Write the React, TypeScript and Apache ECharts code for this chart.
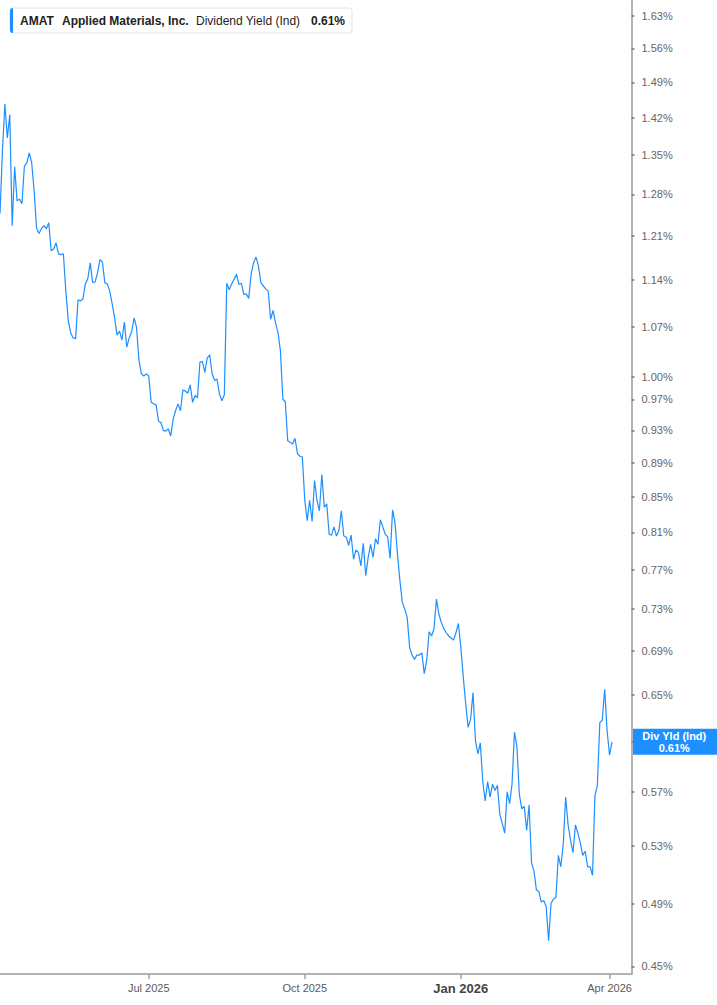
import { useEffect, useRef } from 'react'
import * as echarts from 'echarts'

// AMAT dividend yield (Ind), % — one value per trading day
const q2_2025 = [
  1.247, 1.358, 1.447, 1.382, 1.426, 1.227, 1.329, 1.269, 1.272, 1.264,
  1.330, 1.336, 1.354, 1.336, 1.286, 1.223, 1.214, 1.222, 1.227, 1.222,
  1.232, 1.186, 1.189, 1.199, 1.181, 1.180, 1.181, 1.123, 1.079, 1.061,
  1.054, 1.053, 1.110, 1.108, 1.111, 1.134, 1.142, 1.167, 1.136, 1.137,
  1.151, 1.172, 1.168, 1.136, 1.134, 1.123, 1.104, 1.083, 1.058, 1.064,
  1.051, 1.077, 1.041, 1.054, 1.063, 1.083, 1.069, 1.022, 1.004, 1.001,
  1.004,
]
const q3_2025 = [
  1.001, 0.966, 0.964, 0.963, 0.942, 0.940, 0.930, 0.929, 0.932, 0.923,
  0.944, 0.955, 0.964, 0.955, 0.982, 0.981, 0.978, 0.989, 0.966, 0.975,
  0.972, 1.020, 1.021, 1.006, 1.026, 1.030, 1.004, 0.995, 0.997, 0.977,
  0.968, 0.976, 1.135, 1.125, 1.134, 1.141, 1.149, 1.133, 1.135, 1.118,
  1.119, 1.112, 1.149, 1.167, 1.176, 1.162, 1.136, 1.131, 1.126, 1.123,
  1.081, 1.094, 1.076, 1.062, 1.036, 0.970, 0.967, 0.917, 0.915, 0.913,
  0.920, 0.901, 0.898, 0.897,
]
const q4_2025 = [
  0.846, 0.823, 0.846, 0.822, 0.869, 0.846, 0.834, 0.876, 0.838, 0.842,
  0.808, 0.807, 0.816, 0.806, 0.812, 0.834, 0.806, 0.805, 0.796, 0.807,
  0.781, 0.791, 0.788, 0.774, 0.798, 0.764, 0.783, 0.797, 0.783, 0.803,
  0.797, 0.824, 0.816, 0.808, 0.805, 0.782, 0.835, 0.821, 0.787, 0.759,
  0.737, 0.730, 0.722, 0.693, 0.686, 0.682, 0.686, 0.686, 0.688, 0.669,
  0.681, 0.708, 0.704, 0.711, 0.740, 0.725, 0.717, 0.711, 0.707, 0.704,
  0.702, 0.700, 0.707, 0.716,
]
const q1_2026 = [
  0.693, 0.666, 0.642, 0.622, 0.629, 0.652, 0.611, 0.600, 0.609, 0.578,
  0.563, 0.578, 0.566, 0.576, 0.571, 0.575, 0.553, 0.546, 0.539, 0.570,
  0.561, 0.576, 0.618, 0.606, 0.568, 0.557, 0.559, 0.541, 0.560, 0.518,
  0.512, 0.499, 0.498, 0.491, 0.492, 0.488, 0.466, 0.490, 0.493, 0.494,
  0.523, 0.515, 0.531, 0.566, 0.545, 0.534, 0.525, 0.545, 0.539, 0.532,
  0.523, 0.526, 0.515, 0.515, 0.509, 0.567, 0.575, 0.626, 0.628, 0.655,
  0.619, 0.599, 0.610,
]
const yieldPct = [...q2_2025, ...q3_2025, ...q4_2025, ...q1_2026]

// 0.61% sits under the value badge, so it only gets a tick mark
const yTickMarks = [
  1.63, 1.56, 1.49, 1.42, 1.35, 1.28, 1.21, 1.14, 1.07, 1.0, 0.97, 0.93,
  0.89, 0.85, 0.81, 0.77, 0.73, 0.69, 0.65, 0.61, 0.57, 0.53, 0.49, 0.45,
]
const yTickLabels = yTickMarks.filter(v => v !== 0.61)
const yMin = 0.4454
const yMax = 1.6657

const firstDay = '2025-04-02'
const lastAxisDay = '2026-04-15'
const holidays = [
  '2025-04-18', '2025-05-26', '2025-06-19', '2025-07-04', '2025-09-01',
  '2025-11-27', '2025-12-25', '2026-01-01', '2026-01-19', '2026-02-16',
  '2026-04-03',
]
const monthNames = ['Jan', 'Feb', 'Mar', 'Apr', 'May', 'Jun', 'Jul', 'Aug', 'Sep', 'Oct', 'Nov', 'Dec']

const ticker = 'AMAT'
const company = 'Applied Materials, Inc.'
const metricName = 'Dividend Yield (Ind)'
const badgeName = 'Div Yld (Ind)'

const BLUE = '#1e8fff'
const FONT = '"Liberation Sans", Arial, sans-serif'

function tradingDays(from: string, to: string) {
  const out: string[] = []
  const d = new Date(from + 'T00:00:00Z')
  const end = new Date(to + 'T00:00:00Z')
  while (d <= end) {
    const wd = d.getUTCDay()
    const s = d.toISOString().slice(0, 10)
    if (wd !== 0 && wd !== 6 && !holidays.includes(s)) out.push(s)
    d.setUTCDate(d.getUTCDate() + 1)
  }
  return out
}

export default function App() {
  const chartRef = useRef<HTMLDivElement>(null)

  useEffect(() => {
    if (!chartRef.current) return
    const chart = echarts.init(chartRef.current, null, { renderer: 'svg' })

    const days = tradingDays(firstDay, lastAxisDay)
    const quarterStart = (i: number) => {
      if (i <= 0 || i >= days.length) return false
      const m = days[i].slice(5, 7)
      return m !== days[i - 1].slice(5, 7) && ['01', '04', '07', '10'].includes(m)
    }
    const last = yieldPct[yieldPct.length - 1]
    const lastText = last.toFixed(2) + '%'

    chart.setOption({
      animation: false,
      textStyle: { fontFamily: FONT },
      grid: { left: 0, right: 85.5, top: 0, bottom: 31, outerBoundsMode: 'none' },
      xAxis: {
        type: 'category',
        data: days,
        boundaryGap: false,
        axisLine: { onZero: false, lineStyle: { color: '#b3b3b3', width: 2 } },
        axisTick: {
          interval: (i: number) => quarterStart(i),
          length: 5,
          lineStyle: { color: '#a0a0a0', width: 1.5 },
        },
        axisLabel: {
          interval: (i: number) => quarterStart(i),
          hideOverlap: false,
          margin: 8,
          fontSize: 11,
          color: '#5a5a5a',
          formatter: (v: string) => {
            const [y, m] = v.split('-')
            const name = monthNames[+m - 1] + ' ' + y
            return m === '01' ? `{b|${name}}` : name
          },
          rich: { b: { fontSize: 13, fontWeight: 'bold', color: '#444' } },
        },
        splitLine: { show: false },
      },
      yAxis: {
        type: 'value',
        position: 'right',
        min: Math.log(yMin),
        max: Math.log(yMax),
        axisLine: { show: true, onZero: false, lineStyle: { color: '#b3b3b3', width: 2 } },
        axisTick: {
          show: true,
          customValues: yTickMarks.map(v => Math.log(v)),
          length: 3,
          lineStyle: { color: '#777', width: 1.5 },
        },
        axisLabel: {
          customValues: yTickLabels.map(v => Math.log(v)),
          formatter: (v: number) => Math.exp(v).toFixed(2) + '%',
          margin: 10,
          fontSize: 11,
          color: '#666',
        },
        splitLine: { show: false },
      },
      series: [
        {
          type: 'line',
          data: yieldPct.map(v => Math.log(v)),
          showSymbol: false,
          lineStyle: { color: BLUE, width: 1.2 },
          silent: true,
        },
      ],
    })

    const axisRight = chart.convertToPixel({ xAxisIndex: 0 }, days[days.length - 1]) as number
    const lastY = chart.convertToPixel({ yAxisIndex: 0 }, Math.log(last)) as number
    const badgeW = chart.getWidth() - axisRight

    chart.setOption({
      graphic: [
        {
          id: 'legendBox',
          type: 'rect',
          shape: { x: 10, y: 8, width: 342, height: 25, r: 3 },
          style: { fill: '#fff', stroke: '#e2e2e2', lineWidth: 1 },
          z: 10,
        },
        {
          id: 'legendBar',
          type: 'rect',
          shape: { x: 10, y: 8, width: 3, height: 25, r: [3, 0, 0, 3] },
          style: { fill: BLUE },
          z: 11,
        },
        {
          id: 'legendTicker',
          type: 'text',
          x: 20,
          y: 20.7,
          style: { text: ticker, fill: '#222', font: `bold 12px ${FONT}`, verticalAlign: 'middle' },
          z: 11,
        },
        {
          id: 'legendCompany',
          type: 'text',
          x: 62,
          y: 20.7,
          style: { text: company, fill: '#222', font: `bold 12px ${FONT}`, verticalAlign: 'middle' },
          z: 11,
        },
        {
          id: 'legendMetric',
          type: 'text',
          x: 196,
          y: 20.7,
          style: { text: metricName, fill: '#222', font: `12px ${FONT}`, verticalAlign: 'middle' },
          z: 11,
        },
        {
          id: 'legendValue',
          type: 'text',
          x: 311,
          y: 20.7,
          style: { text: lastText, fill: '#222', font: `bold 12px ${FONT}`, verticalAlign: 'middle' },
          z: 11,
        },
        {
          id: 'badge',
          type: 'group',
          x: axisRight,
          y: lastY,
          z: 20,
          children: [
            {
              type: 'rect',
              shape: { x: 0, y: -13, width: badgeW, height: 26 },
              style: { fill: BLUE },
            },
            {
              type: 'text',
              x: badgeW / 2,
              y: -6,
              style: {
                text: badgeName,
                fill: '#fff',
                font: `bold 11px ${FONT}`,
                align: 'center',
                verticalAlign: 'middle',
              },
            },
            {
              type: 'text',
              x: badgeW / 2,
              y: 6,
              style: {
                text: lastText,
                fill: '#fff',
                font: `bold 11px ${FONT}`,
                align: 'center',
                verticalAlign: 'middle',
              },
            },
          ],
        },
      ],
    })

    return () => chart.dispose()
  }, [])

  return (
    <div
      ref={chartRef}
      style={{ position: 'absolute', left: 0, top: 0, width: 717, height: 1005 }}
    />
  )
}
